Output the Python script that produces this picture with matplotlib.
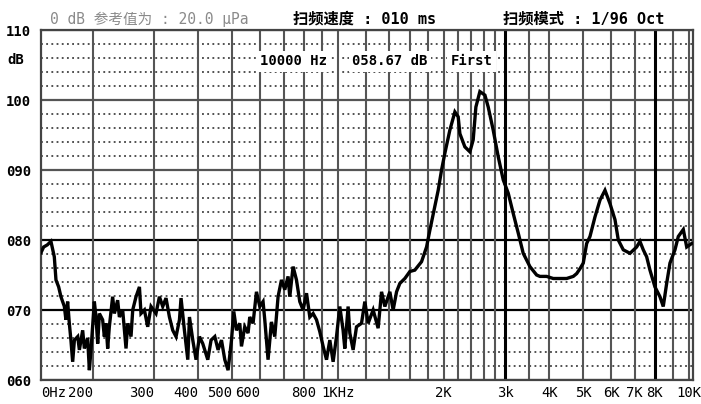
import matplotlib
matplotlib.use('Agg')
import matplotlib.pyplot as plt
from matplotlib.ticker import NullLocator

# ---- data ----
freq_hz = [142.5, 145.0, 148.5, 152.1, 155.5, 157.2, 160.0, 162.4, 166.1, 167.8,
           169.7, 171.6, 173.4, 175.4, 177.4, 181.3, 183.3, 187.3, 189.4, 193.5,
           195.7, 197.8, 202.2, 204.4, 206.7, 209.0, 213.5, 215.9, 218.2, 220.7,
           223.1, 228.0, 230.6, 235.6, 238.3, 243.5, 246.3, 248.9, 251.7, 257.2,
           260.1, 265.8, 271.8, 274.6, 280.8, 287.0, 293.3, 303.0, 309.9, 316.7,
           323.6, 330.9, 338.2, 345.6, 353.4, 357.1, 365.1, 373.3, 377.4, 385.7,
           394.1, 403.0, 411.8, 425.6, 434.9, 445.6, 455.3, 465.6, 475.8, 486.2,
           497.2, 504.7, 513.7, 525.0, 530.8, 542.4, 554.3, 560.5, 572.8, 585.7,
           598.5, 611.6, 618.5, 632.0, 646.2, 660.4, 674.9, 690.2, 705.3, 720.7,
           728.8, 744.7, 761.5, 778.2, 795.3, 813.3, 831.1, 849.3, 868.5, 887.5,
           907.0, 927.4, 947.7, 968.5, 990.2, 1011.8, 1034.0, 1045.6, 1068.6, 1080.6,
           1104.3, 1129.0, 1166.8, 1192.4, 1218.5, 1259.3, 1301.2, 1330.6, 1359.7, 1405.1,
           1435.9, 1468.3, 1500.4, 1550.3, 1602.2, 1655.5, 1729.8, 1787.7, 1826.8, 1888.0,
           1929.3, 1972.5, 2015.8, 2083.0, 2152.7, 2199.8, 2224.4, 2298.7, 2375.3, 2427.3,
           2470.7, 2536.4, 2621.3, 2678.9, 2768.0, 2860.5, 2956.0, 3054.5, 3156.4, 3261.7,
           3370.5, 3521.9, 3680.3, 3760.8, 3929.4, 4104.4, 4481.3, 4680.1, 4785.9, 4890.8,
           4997.7, 5110.5, 5222.3, 5396.9, 5576.9, 5762.7, 5955.0, 6153.8, 6288.4, 6497.8,
           6790.0, 7093.3, 7248.9, 7408.0, 7575.0, 7740.5, 7998.0, 8265.0, 8446.0, 8637.0,
           8826.0, 9121.0, 9322.0, 9634.0, 9850.0, 10178.0]
level_db = [78.2, 79.0, 79.3, 79.8, 77.6, 74.3, 73.3, 71.9, 70.5, 68.6,
            71.2, 68.1, 65.7, 62.6, 65.7, 66.2, 64.3, 67.1, 64.5, 66.0,
            61.4, 64.3, 71.2, 69.0, 65.2, 69.5, 68.6, 66.2, 68.1, 64.5,
            67.6, 71.9, 69.5, 71.4, 69.0, 70.0, 67.1, 64.5, 68.1, 66.2,
            70.0, 71.9, 73.3, 69.5, 70.0, 67.6, 70.5, 69.5, 71.9, 70.5,
            71.7, 69.0, 67.1, 66.2, 68.6, 71.7, 67.1, 62.9, 69.0, 65.7,
            62.9, 66.2, 65.2, 62.9, 65.7, 66.2, 64.3, 65.7, 62.9, 61.4,
            65.7, 69.8, 67.1, 68.1, 64.8, 67.6, 66.7, 69.0, 68.1, 72.6,
            70.5, 71.2, 68.6, 62.9, 68.3, 66.2, 71.9, 74.3, 72.9, 74.8,
            71.9, 76.2, 74.3, 71.2, 70.0, 72.4, 69.0, 69.5, 68.6, 66.9,
            64.8, 62.9, 65.7, 62.6, 66.2, 70.5, 67.1, 64.5, 70.5, 66.7,
            64.3, 67.6, 68.1, 71.2, 68.1, 70.0, 67.4, 72.6, 70.5, 72.6,
            70.0, 72.6, 73.8, 74.5, 75.5, 75.7, 76.9, 79.0, 81.4, 84.8,
            87.1, 90.0, 92.4, 95.7, 98.3, 97.6, 95.2, 93.3, 92.6, 94.3,
            99.0, 101.2, 100.7, 99.0, 95.7, 91.9, 88.6, 86.7, 83.8, 81.0,
            78.1, 76.2, 75.0, 74.8, 74.8, 74.5, 74.5, 74.8, 75.2, 75.9,
            76.7, 79.5, 80.5, 83.3, 85.7, 87.1, 85.2, 82.9, 80.0, 78.6,
            78.1, 79.0, 79.8, 78.6, 77.6, 75.7, 73.3, 71.9, 70.5, 73.8,
            76.7, 78.6, 80.5, 81.5, 79.0, 79.5]

x_tick_freqs = [142.5, 200, 300, 400, 500, 600, 800, 1000, 2000, 3000,
                4000, 5000, 6000, 7000, 8000, 10000]
x_tick_labels = ['0Hz', '200', '300', '400', '500', '600', '800', '1KHz', '2K', '3k',
                 '4K', '5K', '6K', '7K', '8K', '10K']
x_tick_align = ['left', 'right', 'right', 'right', 'right', 'right', 'center', 'center',
                'center', 'center', 'center', 'center', 'center', 'center', 'center', 'center']
grid_freqs = [200, 300, 400, 500, 600, 700, 800, 900, 1000, 1200, 1400, 1600, 1800,
              2000, 2200, 2400, 2600, 2800, 3000, 3500, 4000, 5000, 6000, 7000,
              8000, 9000, 10000]
bold_grid_freqs = [3000, 8000]
y_ticks = [60, 70, 80, 90, 100, 110]
y_tick_labels = ['060', '070', '080', '090', '100', '110']
dark_levels = [70, 80]
dotted_levels = [62, 64, 66, 68, 72, 74, 76, 78, 82, 84, 86, 88, 92, 94, 96, 98,
                 102, 104, 106, 108]

header_ref = '0 dB 参考值为 : 20.0 μPa'
header_speed = '扫频速度 : 010 ms'
header_mode = '扫频模式 : 1/96 Oct'
readout = ['10000 Hz', '058.67 dB', 'First']

FAM = ['DejaVu Sans Mono', 'Noto Sans CJK SC']
W, H = 701, 404

fig = plt.figure(figsize=(W / 100, H / 100), dpi=100)
fig.patch.set_facecolor('white')
ax = fig.add_axes([41 / W, 24 / H, 652 / W, 350 / H])
ax.set_xscale('log')
ax.set_xlim(142.5, 10266)
ax.set_ylim(60, 110)

# grid
for lv in dotted_levels:
    ax.axhline(lv, color='#222222', lw=1.1, ls=(0, (1.2, 2.2)), zorder=1)
for lv in y_ticks:
    if lv in dark_levels:
        ax.axhline(lv, color='black', lw=1.6, zorder=2)
    else:
        ax.axhline(lv, color='#555555', lw=1.6, zorder=2)
for f in grid_freqs:
    if f in bold_grid_freqs:
        ax.axvline(f, color='black', lw=2.2, zorder=2)
    else:
        ax.axvline(f, color='#555555', lw=1.5, zorder=2)

# curve
ax.plot(freq_hz, level_db, color='black', lw=2.4, zorder=4, solid_joinstyle='miter')

for s in ax.spines.values():
    s.set_color('#444444')
    s.set_linewidth(1.6)

ax.set_xticks(x_tick_freqs)
ax.set_xticklabels(x_tick_labels, family=FAM, fontsize=10)
ax.xaxis.set_minor_locator(NullLocator())
for lab, ha in zip(ax.get_xticklabels(), x_tick_align):
    lab.set_ha(ha)
ax.set_yticks(y_ticks)
ax.set_yticklabels(y_tick_labels, family=FAM, fontsize=10, fontweight='bold')
ax.tick_params(axis='x', length=0, pad=4)
ax.tick_params(axis='y', length=0, pad=7)

# readout boxes inside the plot
readout_x = [0.388, 0.535, 0.660]
for txt, xp in zip(readout, readout_x):
    ax.text(xp, 0.911, txt, transform=ax.transAxes, ha='center', va='center',
            family=FAM, fontsize=10, fontweight='bold', zorder=6,
            bbox=dict(facecolor='white', edgecolor='none', pad=2.5))

# header and unit
fig.text(50 / W, 1 - 19 / H, header_ref, family=FAM, fontsize=10.5,
         color='#8a8a8a', ha='left', va='center')
fig.text(293 / W, 1 - 19 / H, header_speed, family=FAM, fontsize=11,
         fontweight='bold', color='black', ha='left', va='center')
fig.text(503 / W, 1 - 19 / H, header_mode, family=FAM, fontsize=11,
         fontweight='bold', color='black', ha='left', va='center')
fig.text(7 / W, 1 - 60 / H, 'dB', family=FAM, fontsize=10, fontweight='bold',
         ha='left', va='center')

fig.savefig('out.png', dpi=100, facecolor='white')
